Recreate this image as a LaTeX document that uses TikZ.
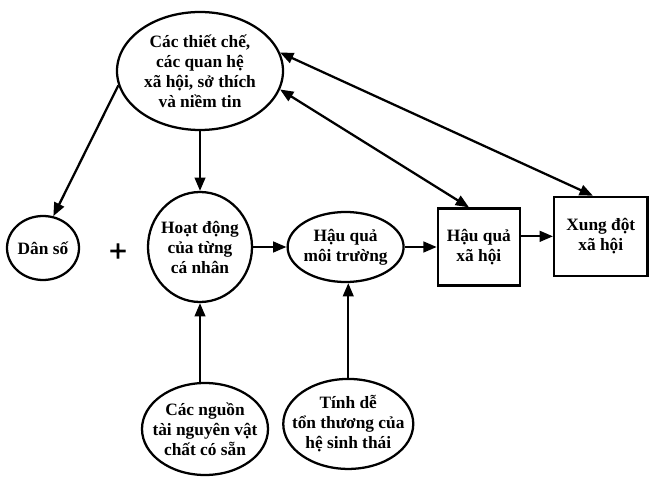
\documentclass[tikz,border=0pt]{standalone}
\usepackage{fontspec}
\setmainfont{Liberation Serif}
\newfontfamily\plusfont[FakeBold=4]{DejaVu Sans}
\usetikzlibrary{arrows.meta, positioning, shapes.geometric}
\tikzset{
    oval/.style={ellipse, draw=black, line width=1.7pt, fill=white, inner xsep=-8pt, inner ysep=-4pt, align=center, font=\bfseries\fontsize{13}{15}\selectfont},
    sqbox/.style={rectangle, draw=black, line width=1.7pt, fill=white, inner sep=0pt, align=center, font=\bfseries\fontsize{13}{15}\selectfont},
    arrow/.style={-{Triangle[length=10pt, width=8pt]}, line width=1.7pt, draw=black},
    twoway/.style={{Triangle[length=10pt, width=8pt]}-{Triangle[length=10pt, width=8pt]}, line width=1.7pt, draw=black}
}

\begin{document}
\begin{tikzpicture}[x=0.75pt, y=-0.75pt, node distance=24pt]
    \useasboundingbox (0,0) rectangle (649,477);
    \node[oval, minimum width=124.5pt, minimum height=88.5pt] (ctx) at (200,71) {Các thiết chế,\\các quan hệ\\xã hội, sở thích\\và niềm tin};
    \node[oval, minimum width=54pt, minimum height=48pt] (ds) at (43,248) {Dân số};
    \node[font=\plusfont\fontsize{17}{17}\selectfont] (plus) at (118,251) {+};
    \node[oval, minimum width=78pt, minimum height=82.5pt] (hd) at (200,247) {Hoạt động\\của từng\\cá nhân};
    \node[oval, right=25pt of hd, minimum width=87pt, minimum height=52.5pt] (hqmt) {Hậu quả\\môi trường};
    \node[sqbox, right=of hqmt, minimum width=61.5pt, minimum height=57.75pt] (hqxh) {Hậu quả\\xã hội};
    \node[sqbox, right=of hqxh, yshift=8pt, minimum width=70pt, minimum height=59.25pt] (xd) {Xung đột\\xã hội};
    \node[oval, minimum width=94.5pt, minimum height=69pt] (tn) at (205,429) {Các nguồn\\tài nguyên vật\\chất có sẵn};
    \node[oval, below=71pt of hqmt, xshift=2pt, minimum width=97.5pt, minimum height=67.5pt] (tdtt) {Tính dễ\\tổn thương của\\hệ sinh thái};

    \draw[arrow] (ctx.190) -- (ds.72);
    \draw[arrow] (ctx.south) -- (hd.north);
    \draw[arrow] (hd) -- (hqmt);
    \draw[arrow] (hqmt) -- (hqxh);
    \draw[arrow] (hqxh.east |- xd) -- (xd);
    \draw[arrow] (tn.north -| hd) -- (hd);
    \draw[arrow] (tdtt.north) -- (tdtt.north |- hqmt.south);
    \draw[twoway] (ctx.347) -- (hqxh.104);
    \draw[twoway] (ctx.13) -- (xd.101);
\end{tikzpicture}
\end{document}
